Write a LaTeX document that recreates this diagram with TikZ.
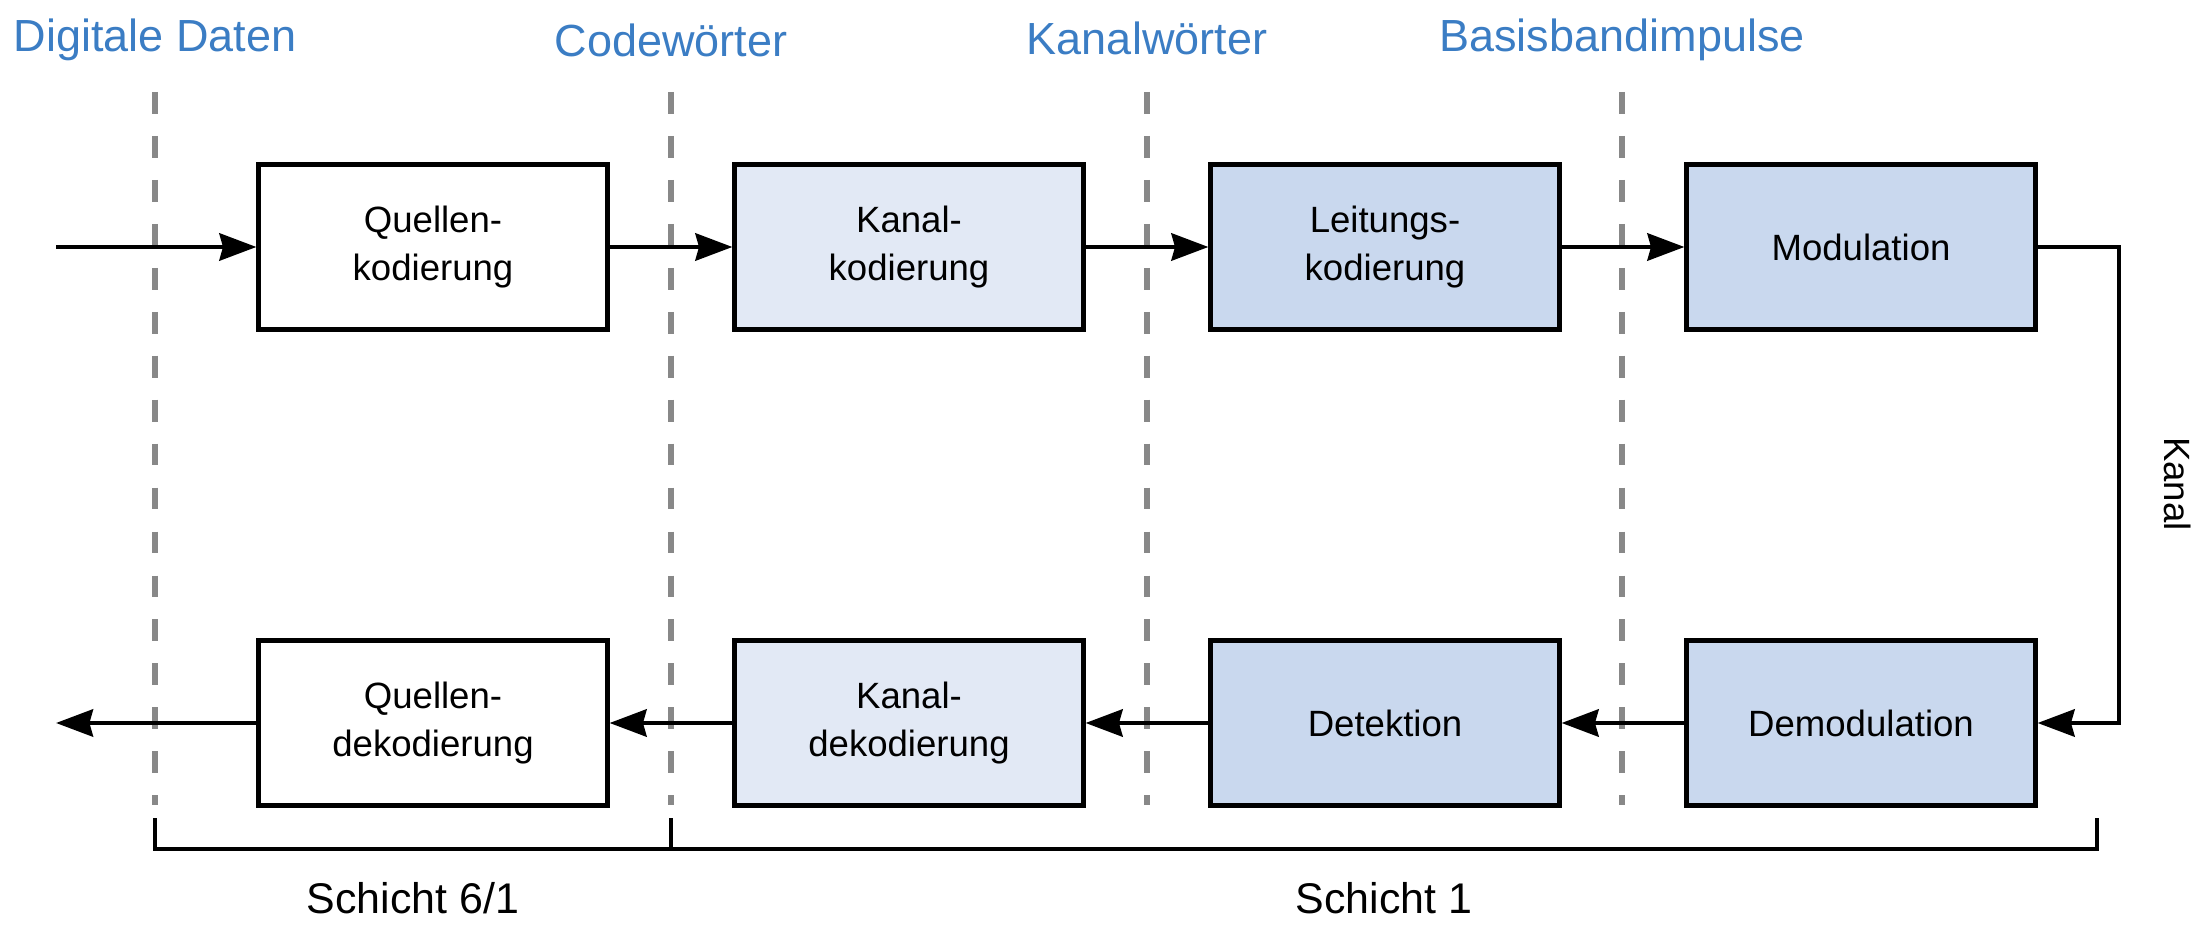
\documentclass[tikz,border=0pt]{standalone}
\usepackage{fontspec}
\setmainfont{Liberation Sans}
\usetikzlibrary{arrows.meta}
\definecolor{lblblue}{HTML}{3B7DC4}
\definecolor{fillA}{HTML}{E2E9F5}
\definecolor{fillB}{HTML}{C9D8EE}
\definecolor{sepgray}{HTML}{888888}
\begin{document}
\begin{tikzpicture}[x=0.01cm,y=-0.01cm,
  blk/.style={draw=black, line width=1.4pt, minimum width=3.48cm, minimum height=1.65cm,
    align=center, inner sep=0pt, font=\fontsize{10.4}{13.4}\selectfont},
  conn/.style={line width=1.4pt, -{Stealth[length=10.5pt,width=7.7pt,inset=1pt]}},
  sepline/.style={draw=sepgray, line width=1.7pt, dash pattern=on 6.2pt off 6.3pt},
  hdr/.style={text=lblblue, font=\fontsize{12.8}{15}\selectfont, anchor=base},
  lay/.style={font=\fontsize{12.2}{14}\selectfont, anchor=base},
  brk/.style={line width=1.4pt}
]
\useasboundingbox (0,0) rectangle (2212,928);

% separators
\foreach \n/\x in {s1/155,s2/671,s3/1147,s4/1622}{
  \coordinate (\n t) at (\x,92);
  \coordinate (\n b) at (\x,805);
  \draw[sepline] (\n t) -- (\n b);
}

% headers
\node[hdr] (h1) at (155,52) {Digitale Daten};
\node[hdr] (h2) at (671,57) {Codewörter};
\node[hdr] (h3) at (1147,55) {Kanalwörter};
\node[hdr] (h4) at (1622,52) {Basisbandimpulse};

% top row
\node[blk, fill=white] (qk) at (433,247) {Quellen-\\kodierung};
\node[blk, fill=fillA] (kk) at (909,247) {Kanal-\\kodierung};
\node[blk, fill=fillB] (lk) at (1385,247) {Leitungs-\\kodierung};
\node[blk, fill=fillB] (mod) at (1861,247) {Modulation};

% bottom row
\node[blk, fill=white] (qd) at (433,723) {Quellen-\\dekodierung};
\node[blk, fill=fillA] (kd) at (909,723) {Kanal-\\dekodierung};
\node[blk, fill=fillB] (det) at (1385,723) {Detektion};
\node[blk, fill=fillB] (dem) at (1861,723) {Demodulation};

\coordinate (in) at (56,247);
\coordinate (out) at (56,723);
\coordinate (ch) at (2119,247);
\coordinate (chb) at (2119,723);

\draw[conn] (in) -- (qk);
\draw[conn] (qk) -- (kk);
\draw[conn] (kk) -- (lk);
\draw[conn] (lk) -- (mod);
\draw[conn] (mod.east) -- (ch) -- (chb) -- (dem.east);
\draw[conn] (dem) -- (det);
\draw[conn] (det) -- (kd);
\draw[conn] (kd) -- (qd);
\draw[conn] (qd) -- (out);

\node[rotate=-90, font=\fontsize{10.4}{12}\selectfont] (kanal) at (2178,484) {Kanal};

% bracket
\coordinate (b1t) at (155,818);
\coordinate (b1b) at (155,849);
\coordinate (b2t) at (671,818);
\coordinate (b2b) at (671,849);
\coordinate (b3t) at (2097,818);
\coordinate (b3b) at (2097,849);
\draw[brk] (b1t) -- (b1b) -- (b3b) -- (b3t);
\draw[brk] (b2t) -- (b2b);

\node[lay] (l1) at (413,913) {Schicht 6/1};
\node[lay] (l2) at (1384,913) {Schicht 1};
\end{tikzpicture}
\end{document}
